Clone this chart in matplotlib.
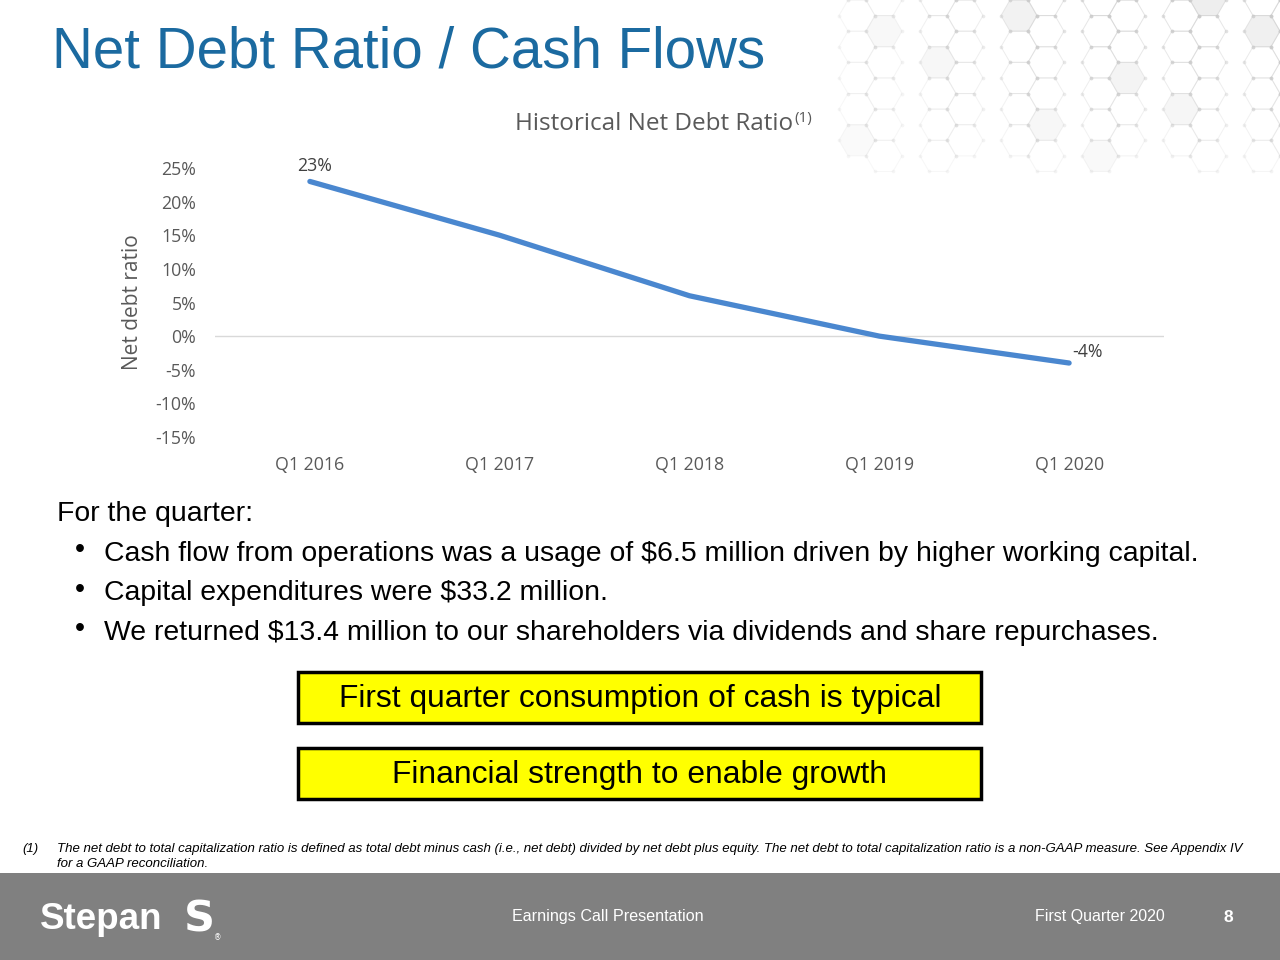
import matplotlib
matplotlib.use("Agg")
import matplotlib.pyplot as plt
from matplotlib.patches import Rectangle, RegularPolygon
import numpy as np

# ---- data ----
quarters = ["Q1 2016", "Q1 2017", "Q1 2018", "Q1 2019", "Q1 2020"]
net_debt_ratio = [23, 15, 6, 0, -4]
y_ticks = [-15, -10, -5, 0, 5, 10, 15, 20, 25]
y_tick_labels = ["-15%", "-10%", "-5%", "0%", "5%", "10%", "15%", "20%", "25%"]
bullets = [
    "Cash flow from operations was a usage of $6.5 million driven by higher working capital.",
    "Capital expenditures were $33.2 million.",
    "We returned $13.4 million to our shareholders via dividends and share repurchases.",
]
boxes = ["First quarter consumption of cash is typical", "Financial strength to enable growth"]

W, H = 1280, 960
CHART_FONT = "Open Sans"
fig = plt.figure(figsize=(12.8, 9.6), dpi=100)
fig.patch.set_facecolor("white")

# background overlay in pixel coordinates
bg = fig.add_axes([0, 0, 1, 1], zorder=0)
bg.set_xlim(0, W)
bg.set_ylim(H, 0)
bg.axis("off")

# decorative hexagon pattern (top-right)
r = 18.0
dx = 1.5 * r
dy = np.sqrt(3) * r
for i in range(0, 19):
    for j in range(-1, 7):
        cx = 830 + i * dx
        cy = j * dy + (dy / 2 if i % 2 else 0)
        if cx > W + r or cy > 170:
            continue
        if (i * 7 + j * 3) % 3 == 0:
            continue
        fade = min(1.0, (cx - 830) / 250.0) * max(0.0, 1 - cy / 180.0)
        fill = (i * 5 + j * 11) % 7 == 0
        a = 0.15 + 0.45 * fade
        hexa = RegularPolygon((cx, cy), numVertices=6, radius=r, orientation=np.pi / 6,
                              facecolor="#e4e4e4" if fill else "none",
                              edgecolor="#d0d0d0", linewidth=0.7, alpha=a)
        bg.add_patch(hexa)
        vx = cx + r * np.cos(np.arange(6) * np.pi / 3)
        vy = cy + r * np.sin(np.arange(6) * np.pi / 3)
        bg.scatter(vx, vy, s=7, color="#c8c8c8", alpha=a, linewidths=0)

# footer band
bg.add_patch(Rectangle((0, 873), W, 87, facecolor="#808080", edgecolor="none"))

# yellow boxes
for k, txt in enumerate(boxes):
    y0 = 672 + k * 76
    bg.add_patch(Rectangle((298, y0), 683, 51, facecolor="#ffff00", edgecolor="black", linewidth=2.5))
    bg.text(640, y0 + 27, txt, ha="center", va="center", fontsize=22.9,
            family="Liberation Sans", color="black")

# title
bg.text(52, 67, "Net Debt Ratio / Cash Flows", fontsize=40.7, color="#1b6aa0",
        family="Liberation Sans", ha="left", va="baseline")

# body text
bg.text(57, 521, "For the quarter:", fontsize=20.4, family="Liberation Sans", color="black", va="baseline")
for k, b in enumerate(bullets):
    yb = 561 + k * 39.5
    bg.text(75, yb - 4, "\u2022", fontsize=20.4, family="Liberation Sans", color="black", va="baseline")
    bg.text(104, yb, b, fontsize=20.4, family="Liberation Sans", color="black", va="baseline")

# footnote
bg.text(22, 852, "(1)", fontsize=9.55, style="italic", family="Liberation Sans", va="baseline")
bg.text(57, 852, "The net debt to total capitalization ratio is defined as total debt minus cash (i.e., net debt) divided by net debt plus equity. "
        "The net debt to total capitalization ratio is a non-GAAP measure. See Appendix IV",
        fontsize=9.55, style="italic", family="Liberation Sans", va="baseline")
bg.text(57, 867, "for a GAAP reconciliation.", fontsize=9.55, style="italic", family="Liberation Sans", va="baseline")

# footer texts
bg.text(40, 929, "Stepan", fontsize=26.5, weight="bold", color="white", family="Liberation Sans", va="baseline")
bg.text(184, 931, "S", fontsize=31, weight="bold", color="white", family="DejaVu Sans", va="baseline")
bg.text(214, 940, "\u00ae", fontsize=5.5, color="white", family="DejaVu Sans", va="baseline")
bg.text(512, 921, "Earnings Call Presentation", fontsize=11.6, color="white", family="Liberation Sans", va="baseline")
bg.text(1035, 921, "First Quarter 2020", fontsize=11.5, color="white", family="Liberation Sans", va="baseline")
bg.text(1223, 922, "8", fontsize=12.5, weight="bold", color="white", family="Liberation Sans", va="baseline")

# chart title
t = bg.text(515, 130, "Historical Net Debt Ratio", fontsize=17.5, color="#595959", family=CHART_FONT, va="baseline")
fig.canvas.draw()
bb = t.get_window_extent()
x_end = bb.x1  # display pixels
bg.text(x_end + 1, 122, "(1)", fontsize=11, color="#595959", family=CHART_FONT, va="baseline")

# ---- chart ----
ax = fig.add_axes([215 / W, 1 - 437 / H, (1164 - 215) / W, (437 - 168) / H], zorder=2)
ax.patch.set_alpha(0)
x = np.arange(len(quarters))
ax.plot(x, net_debt_ratio, color="#4a87cf", linewidth=3.8, solid_capstyle="round", zorder=3)
ax.axhline(0, color="#d9d9d9", linewidth=1.0, zorder=1)
ax.set_xlim(-0.5, len(quarters) - 0.5)
ax.set_ylim(-15, 25)
ax.set_yticks(y_ticks)
ax.set_yticklabels(y_tick_labels)
ax.set_xticks(x)
ax.set_xticklabels(quarters)
for s in ax.spines.values():
    s.set_visible(False)
ax.tick_params(axis="both", length=0, labelsize=12.8, labelcolor="#595959")
ax.tick_params(axis="y", pad=13.5)
ax.tick_params(axis="x", pad=14)
for lab in ax.get_xticklabels() + ax.get_yticklabels():
    lab.set_family(CHART_FONT)
ax.set_ylabel("Net debt ratio", fontsize=15, color="#595959", family=CHART_FONT, labelpad=9)

ax.annotate(f"{net_debt_ratio[0]}%", (x[0], net_debt_ratio[0]), xytext=(3, 5), textcoords="offset points",
            ha="center", va="bottom", fontsize=12.8, color="#404040", family=CHART_FONT)
ax.annotate(f"{net_debt_ratio[-1]}%", (x[-1], net_debt_ratio[-1]), xytext=(13, 8), textcoords="offset points",
            ha="center", va="center", fontsize=12.8, color="#404040", family=CHART_FONT)

fig.savefig("out.png", dpi=100)
